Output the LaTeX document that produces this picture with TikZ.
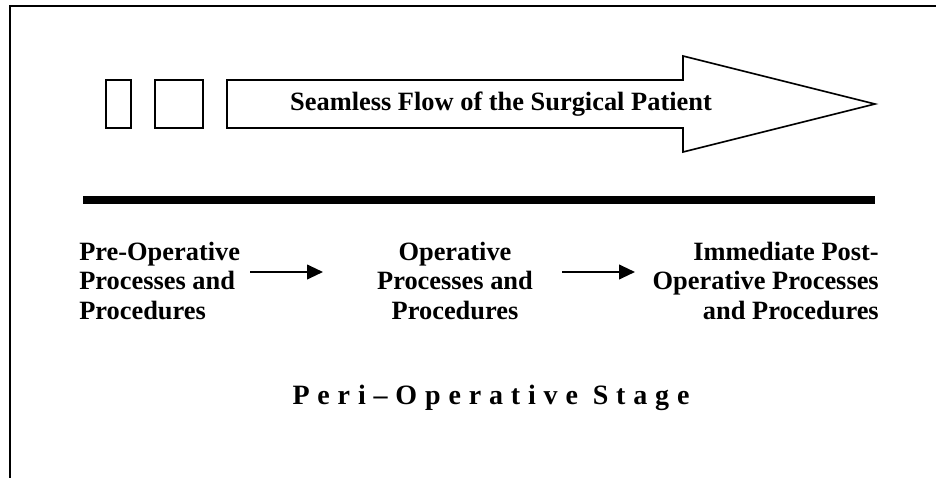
\documentclass[tikz,border=0pt]{standalone}
\usepackage{fontspec}
\setmainfont{Liberation Serif}
\usetikzlibrary{arrows.meta}
\tikzset{
	stagetext/.style={font=\fontsize{19.8}{22.1}\selectfont\bfseries, inner sep=0pt}
}
\tikzset{
	flowarrow/.style={line width=1.5pt, -{Triangle[length=12pt, width=11pt]}}
}
\newcommand{\spaced}[1]{{\addfontfeature{LetterSpace=28}#1}}

\begin{document}
\begin{tikzpicture}[x=0.75pt, y=-0.75pt]
      \useasboundingbox (0,0) rectangle (936,478);
      % frame, top and left only
      \draw[line width=1.5pt] (10,478) -- (10,6) -- (936,6);
      % two small boxes and the big flow arrow
      \draw[line width=1.2pt] (106,80) rectangle (131,128);
      \draw[line width=1.2pt] (155,80) rectangle (203,128);
      \draw[line width=1.2pt] (227,80) -- (683,80) -- (683,56) -- (875,104) -- (683,152) -- (683,128) -- (227,128) -- cycle;
      \node[stagetext] (flow) at (501,104) {Seamless Flow of the Surgical Patient};
      \draw[line width=6pt] (83,200) -- (875,200);
      % the three stages
      \node[stagetext, anchor=west, align=left] (pre) at (79,281) {Pre-Operative\\Processes and\\Procedures};
      \node[stagetext, align=center] (op) at (455,281) {Operative\\Processes and\\Procedures};
      \node[stagetext, anchor=east, align=right] (post) at (879,281) {Immediate Post-\\Operative Processes\\and Procedures};
      \coordinate (a1) at (250,272); \coordinate (b1) at (323,272);
      \coordinate (a2) at (562,272); \coordinate (b2) at (635,272);
      \draw[flowarrow] (a1) -- (b1);
      \draw[flowarrow] (a2) -- (b2);
      \node[stagetext, font=\fontsize{21}{24}\selectfont\bfseries] (peri) at (491,398) {\spaced{Peri–Operative Stage}};
    \end{tikzpicture}
\end{document}
